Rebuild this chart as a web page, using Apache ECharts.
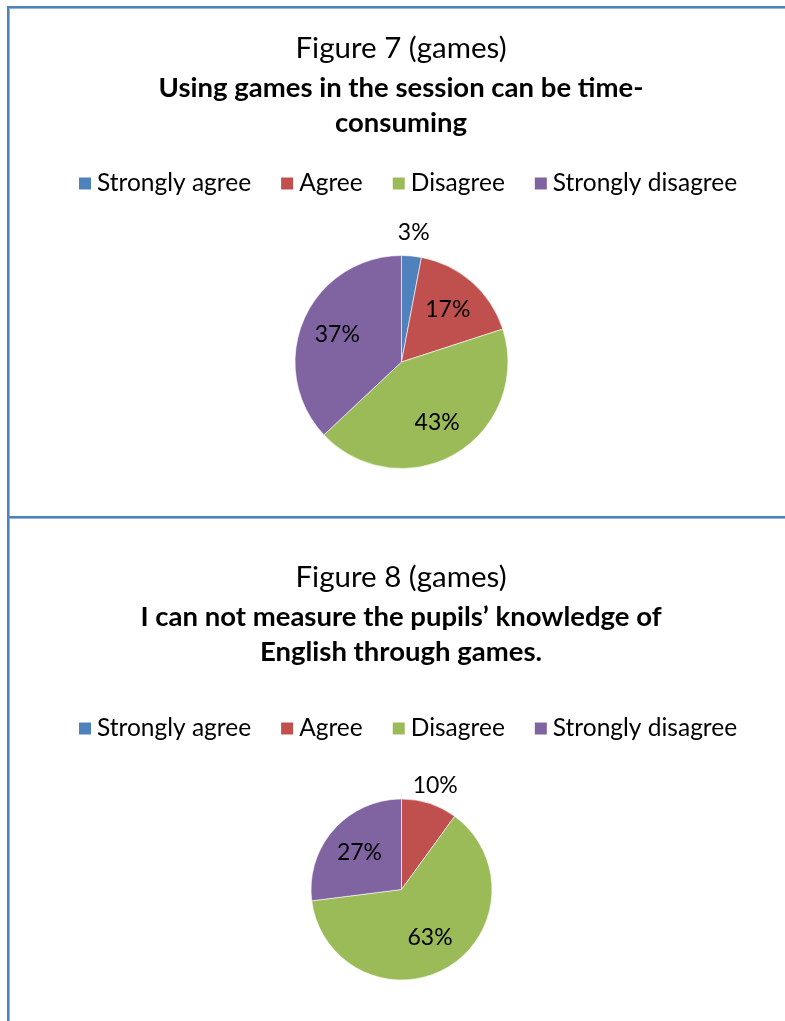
<!DOCTYPE html>
<html>
<head>
<meta charset="utf-8">
<script src="https://cdn.jsdelivr.net/npm/echarts@6/dist/echarts.min.js"></script>
<style>
html,body{margin:0;padding:0;background:#fff;overflow:hidden;}
#chart{width:785px;height:1021px;}
</style>
</head>
<body>
<div id="chart"></div>
<script>
const categories = ['Strongly agree', 'Agree', 'Disagree', 'Strongly disagree'];
const fig7Values = [3, 17, 43, 37];
const fig8Values = [0, 10, 63, 27];
const fig7Title = 'Figure 7 (games)';
const fig7Subtitle = 'Using games in the session can be time-\nconsuming';
const fig8Title = 'Figure 8 (games)';
const fig8Subtitle = 'I can not measure the pupils\u2019 knowledge of\nEnglish through games.';
const colors = ['#4F81BD', '#C0504D', '#9BBB59', '#8064A2'];

const FONT = 'Lato, "Open Sans", sans-serif';
const SMALL = 15; // slices whose label goes outside the pie

function toData(values) {
  return categories.map((c, i) => ({ name: c, value: values[i] }));
}

function pieSeries(values, center, r, innerLabelR, outerLabelR) {
  const data = toData(values);
  const main = {
    type: 'pie', center: center, radius: r, startAngle: 90, clockwise: true,
    silent: true, animation: false,
    itemStyle: { borderColor: '#ffffff', borderWidth: 0.6 },
    label: { show: false }, labelLine: { show: false },
    data: data.filter(d => d.value > 0)
  };
  const labelStyle = { color: '#000', fontFamily: FONT, fontSize: 23 };
  const innerLabels = {
    type: 'pie', center: center, radius: [0, innerLabelR * 2], startAngle: 90, clockwise: true,
    silent: true, animation: false, legendHoverLink: false,
    itemStyle: { color: 'rgba(0,0,0,0)', borderWidth: 0 },
    labelLine: { show: false },
    data: data.filter(d => d.value > 0).map(d => ({
      name: d.name, value: d.value,
      label: Object.assign({ show: d.value >= SMALL, position: 'inside', formatter: d.value + '%' }, labelStyle)
    }))
  };
  const outerLabels = {
    type: 'pie', center: center, radius: [outerLabelR - 10, outerLabelR + 10], startAngle: 90, clockwise: true,
    silent: true, animation: false, legendHoverLink: false,
    itemStyle: { color: 'rgba(0,0,0,0)', borderWidth: 0 },
    labelLine: { show: false },
    data: data.filter(d => d.value > 0).map(d => ({
      name: d.name, value: d.value,
      label: Object.assign({ show: d.value < SMALL, position: 'inside', formatter: d.value + '%' }, labelStyle)
    }))
  };
  return [main, innerLabels, outerLabels];
}

function titleBlock(text, sub, top) {
  return {
    text: text, subtext: sub, left: 401, top: top, textAlign: 'center', padding: 0, itemGap: 4,
    textStyle: { fontFamily: FONT, fontSize: 29.5, fontWeight: 'normal', color: '#000', lineHeight: 36 },
    subtextStyle: { fontFamily: FONT, fontSize: 27.5, fontWeight: 'bold', color: '#000', lineHeight: 35.5 }
  };
}

function legendBlock(top) {
  return {
    data: categories, top: top, left: 77, orient: 'horizontal', icon: 'rect',
    itemWidth: 14, itemHeight: 14, itemGap: 28, padding: 0, selectedMode: false,
    textStyle: { fontFamily: FONT, fontSize: 24.5, color: '#000' }
  };
}

const chart = echarts.init(document.getElementById('chart'), null, { renderer: 'canvas' });
const lineDark = { stroke: '#4F81BD', lineWidth: 2 };
const lineLight = { stroke: '#95B3D7', lineWidth: 1 };
chart.setOption({
  animation: false,
  color: colors,
  backgroundColor: '#ffffff',
  title: [titleBlock(fig7Title, fig7Subtitle, 30), titleBlock(fig8Title, fig8Subtitle, 559)],
  legend: [legendBlock(171), legendBlock(716)],
  series: [].concat(
    pieSeries(fig7Values, [401.5, 362], 106.5, 67, 127),
    pieSeries(fig8Values, [401.5, 889.5], 90.5, 53, 106)
  ),
  graphic: [
    { type: 'line', shape: { x1: 8, y1: 7, x2: 785, y2: 7 }, style: lineDark, silent: true },
    { type: 'line', shape: { x1: 9, y1: 8.5, x2: 785, y2: 8.5 }, style: lineLight, silent: true },
    { type: 'line', shape: { x1: 8, y1: 6, x2: 8, y2: 1021 }, style: lineDark, silent: true },
    { type: 'line', shape: { x1: 9.5, y1: 8, x2: 9.5, y2: 1021 }, style: lineLight, silent: true },
    { type: 'line', shape: { x1: 8, y1: 517, x2: 785, y2: 517 }, style: lineDark, silent: true },
    { type: 'line', shape: { x1: 9, y1: 518.5, x2: 785, y2: 518.5 }, style: lineLight, silent: true }
  ]
});
</script>
</body>
</html>
